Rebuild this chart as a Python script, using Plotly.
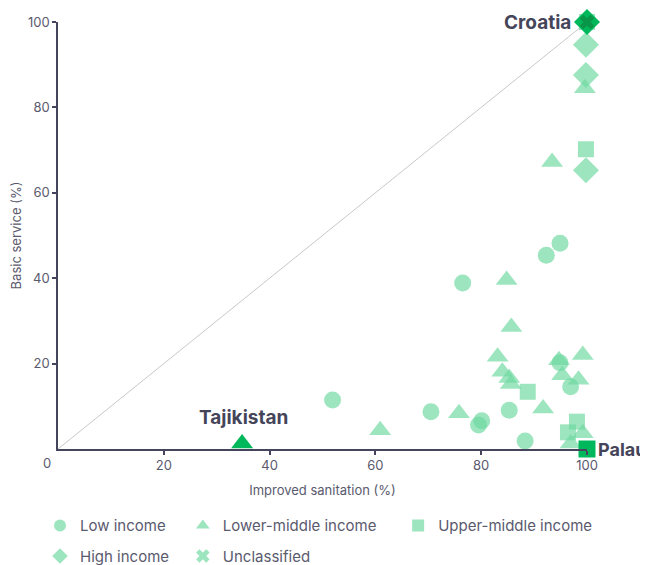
import plotly.graph_objects as go

# Data (Improved sanitation %, Basic service %)
low_x = [76.5, 92.3, 94.9, 51.9, 70.5, 79.5, 80.1, 85.3, 88.3, 94.9, 96.9]
low_y = [38.9, 45.4, 48.2, 11.5, 8.7, 5.6, 6.6, 9.1, 1.9, 20.2, 14.6]

lm_x = [60.9, 75.8, 84.8, 85.7, 83.1, 84.0, 85.3, 85.6, 94.7, 95.3, 99.2, 98.4, 91.7, 99.2, 96.9, 93.4, 99.6]
lm_y = [4.4, 8.4, 39.6, 28.6, 21.6, 18.1, 16.6, 15.2, 20.8, 17.3, 22.0, 16.2, 9.5, 3.7, 1.3, 67.2, 84.5]

um_x = [88.8, 98.1, 96.4, 99.8, 100]
um_y = [13.4, 6.4, 3.9, 70.2, 100]

hi_x = [99.8, 99.8, 99.8]
hi_y = [94.7, 87.6, 65.3]

un_x = [100]
un_y = [100]

# Highlighted countries
hl_names = ["Croatia", "Tajikistan", "Palau"]
hl_x = [100, 34.8, 100]
hl_y = [100, 1.3, 0]
hl_symbols = ["diamond", "triangle-up", "square"]

tick_vals = [20, 40, 60, 80, 100]

LIGHT = "rgba(110,216,160,0.68)"
DARK = "#00b85c"
TEXT = "#45455a"
TICK = "#5a5a6e"
FONT = "Inter"

fig = go.Figure()

fig.add_trace(go.Scatter(x=[0, 100], y=[0, 100], mode="lines",
                         line=dict(color="#c8c8c8", width=1),
                         showlegend=False, hoverinfo="skip"))

series = [
    ("Low income", low_x, low_y, "circle", 17),
    ("Lower-middle income", lm_x, lm_y, "triangle-up", 19),
    ("Upper-middle income", um_x, um_y, "square", 16),
    ("High income", hi_x, hi_y, "diamond", 20),
    ("Unclassified", un_x, un_y, "x", 14),
]
legend_ids = ["legend", "legend2", "legend3", "legend4", "legend5"]
for (name, xs, ys, sym, sz), lg in zip(series, legend_ids):
    fig.add_trace(go.Scatter(x=xs, y=ys, mode="markers", name=name, legend=lg,
                             marker=dict(symbol=sym, size=sz, color=LIGHT,
                                         line=dict(width=0)),
                             cliponaxis=False))

for n, x, y, s in zip(hl_names, hl_x, hl_y, hl_symbols):
    sz = {"diamond": 20, "triangle-up": 19, "square": 17}[s]
    fig.add_trace(go.Scatter(x=[x], y=[y], mode="markers", showlegend=False,
                             marker=dict(symbol=s, size=sz, color=DARK, line=dict(width=0)),
                             cliponaxis=False))
# Croatia also has the unclassified mark on top
fig.add_trace(go.Scatter(x=un_x, y=un_y, mode="markers", showlegend=False,
                         marker=dict(symbol="x", size=13, color="#0a9648", line=dict(width=0)),
                         cliponaxis=False))

annos = [
    dict(x=100, y=100, text="<b>Croatia</b>", xanchor="right", yanchor="middle", xshift=-14, size=19),
    dict(x=34.8, y=1.3, text="<b>Tajikistan</b>", xanchor="center", yanchor="bottom", yshift=12, xshift=1, size=19),
    dict(x=100, y=0, text="<b>Palau</b>", xanchor="left", yanchor="middle", xshift=9, size=18),
]
for a in annos:
    sz = a.pop("size")
    fig.add_annotation(**a, showarrow=False, font=dict(family=FONT, size=sz, color=TEXT))

# origin "0" labels
fig.add_annotation(x=0, y=0, xref="x", yref="y", text="0", showarrow=False,
                   xshift=-11, yshift=-14, font=dict(family=FONT, size=13, color=TICK))

axis_common = dict(range=[0, 100], tickvals=tick_vals, showgrid=False, zeroline=False,
                   showline=True, linecolor="#44445a", linewidth=1.5,
                   ticks="outside", ticklen=4, tickwidth=2, tickcolor="#44445a",
                   automargin=False, tickfont=dict(family=FONT, size=13, color=TICK))

legend_common = dict(orientation="h", xanchor="left", yanchor="middle",
                     font=dict(family=FONT, size=15, color=TICK),
                     itemsizing="constant", bgcolor="rgba(0,0,0,0)")
# legend item placement (paper fractions)
legend_x = [-0.034, 0.236, 0.643, -0.034, 0.236]
legend_y = [-0.180, -0.180, -0.180, -0.251, -0.251]

legend_layout = {lid: dict(**legend_common, x=lx, y=ly)
                 for lid, lx, ly in zip(legend_ids, legend_x, legend_y)}

# the page body adds an 8px offset, so the figure is 8px smaller than the window
fig.update_layout(
    width=640, height=557,
    margin=dict(l=50, r=61, t=14, b=116, autoexpand=False),
    plot_bgcolor="white", paper_bgcolor="white",
    font=dict(family=FONT, size=13, color=TICK),
    xaxis=dict(**axis_common,
               title=dict(text="Improved sanitation (%)", font=dict(size=13, color=TICK), standoff=14)),
    yaxis=dict(**axis_common,
               title=dict(text="Basic service (%)", font=dict(size=13, color=TICK), standoff=10)),
    **legend_layout,
)

fig.write_html("out.html")
